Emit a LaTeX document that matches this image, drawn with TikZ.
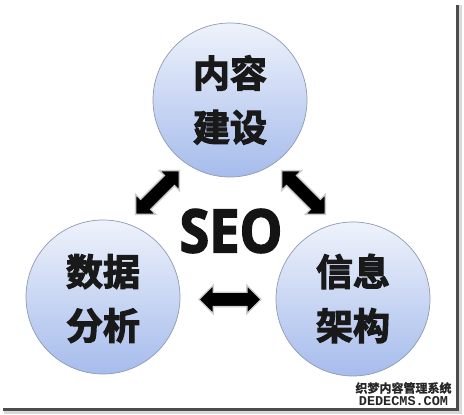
\documentclass[tikz,border=0pt]{standalone}
\usepackage{fontspec}
\usetikzlibrary{shapes.arrows}
\newfontfamily\cjkb[RawFeature={embolden=3}]{Noto Sans CJK SC Bold}
\newfontfamily\cjkwm[RawFeature={embolden=1.5}]{Noto Sans CJK SC Bold}
\newfontfamily\seofont[RawFeature={embolden=2.5}]{Open Sans Bold}
\newfontfamily\wmmono{Liberation Mono Bold}
\definecolor{circtop}{HTML}{EEF2FB}
\definecolor{circbot}{HTML}{A6BCEC}
\definecolor{circedge}{HTML}{8E9AB2}
\tikzset{
  bubble/.style={circle, minimum size=154pt, inner sep=0pt, top color=circtop, bottom color=circbot, draw=circedge, line width=0.7pt},
  bubbletext/.style={font=\cjkb\fontsize{37}{54}\selectfont, align=center, text=black!90, inner sep=0pt},
  blockarrow/.style={double arrow, fill=black, draw=black!20, line width=1.4pt, minimum height=62pt, double arrow head extend=7pt, double arrow tip angle=90, inner sep=0pt},
}
\newcommand{\shaft}{\rule{0pt}{13pt}}
\begin{document}
\begin{tikzpicture}[x=1pt,y=1pt]
\useasboundingbox (0,0) rectangle (464,415);
\fill[white] (0,0) rectangle (464,415);
% frame shadow
\fill[black!15] (4,1) rectangle (461,4);
\fill[black!15] (459,1) rectangle (462,410);
\fill[black!70] (3,4) rectangle (458,6.5);
\fill[black!70] (456,4) rectangle (458.5,410);
% circles
\node[bubble] (top) at (230,315) {};
\node[bubble] (left) at (103,118) {};
\node[bubble] (right) at (353,116) {};
\node[bubbletext] (toptext) at (230,315) {内容\\建设};
\node[bubbletext] (lefttext) at (103,116.5) {数据\\分析};
\node[bubbletext] (righttext) at (353,116.5) {信息\\架构};
% SEO
\node[font=\seofont\fontsize{60}{60}\selectfont, inner sep=0pt, xscale=0.9, text=black!92] (seo) at (231,184) {SEO};
% arrows
\node[blockarrow, rotate=45] (arrL) at (157.5,222.5) {\shaft};
\node[blockarrow, rotate=-45] (arrR) at (303.5,222.5) {\shaft};
\node[blockarrow] (arrB) at (230,115.5) {\shaft};
% watermark
\node[font=\cjkwm\fontsize{12}{12}\selectfont, inner sep=0pt, text=black!85] (wm1) at (403.5,27) {织梦内容管理系统};
\node[font=\wmmono\fontsize{13.5}{13.5}\selectfont, inner sep=0pt, text=black!85] (wm2) at (403.5,14) {DEDECMS.COM};
\end{tikzpicture}
\end{document}
